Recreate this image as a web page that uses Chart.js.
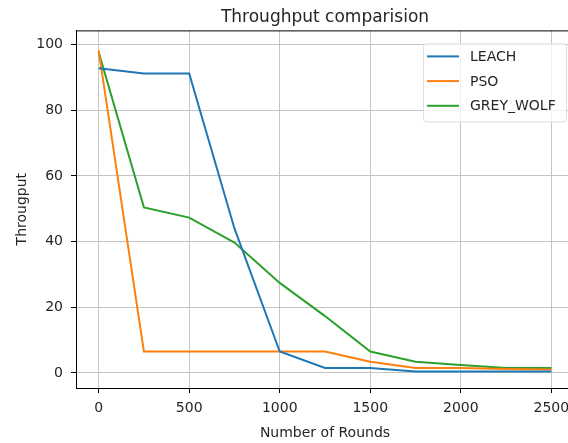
<!DOCTYPE html>
<html>
<head>
<meta charset="utf-8">
<script src="https://cdn.jsdelivr.net/npm/chart.js@4"></script>
<style>
  html, body { margin: 0; padding: 0; background: #fff; overflow: hidden; }
  canvas { display: block; }
</style>
</head>
<body>
<canvas id="lineChart" width="650" height="443"></canvas>
<script>
var rounds = [0, 250, 500, 750, 1000, 1250, 1500, 1750, 2000, 2250, 2500];
var leach = [92.8, 91.2, 91.2, 44, 6.5, 1.5, 1.5, 0.4, 0.4, 0.4, 0.4];
var pso = [98.2, 6.5, 6.5, 6.5, 6.5, 6.5, 3.4, 1.5, 1.5, 1.2, 1.0];
var greyWolf = [97.7, 50.4, 47.3, 39.7, 27.4, 17.3, 6.5, 3.4, 2.4, 1.5, 1.5];
var xTicks = [0, 500, 1000, 1500, 2000, 2500];
var yTicks = [0, 20, 40, 60, 80, 100];

var fontFamily = "'DejaVu Sans', sans-serif";
var textColor = "#262626";

function points(values) {
    return rounds.map(function(r, i) { return { x: r, y: values[i] }; });
}

function series(label, values, color) {
    return {
        label: label,
        data: points(values),
        borderColor: color,
        backgroundColor: color,
        borderWidth: 2,
        pointRadius: 0,
        tension: 0,
        fill: false
    };
}

// matplotlib style legend drawn inside the axes, upper right
var boxLegend = {
    id: "boxLegend",
    afterDatasetsDraw: function(chart) {
        var ctx = chart.ctx;
        var area = chart.chartArea;
        var right = area.right - 8;
        var left = right - 143;
        var top = area.top + 13;
        var bottom = top + 78;
        ctx.save();
        ctx.beginPath();
        ctx.roundRect(left + 0.5, top + 0.5, right - left, bottom - top, 3);
        ctx.fillStyle = "rgba(255,255,255,0.8)";
        ctx.fill();
        ctx.strokeStyle = "#dedede";
        ctx.lineWidth = 1;
        ctx.stroke();
        ctx.font = "14px " + fontFamily;
        ctx.textBaseline = "middle";
        ctx.fillStyle = textColor;
        chart.data.datasets.forEach(function(ds, i) {
            var y = top + 13 + i * 24.7;
            ctx.beginPath();
            ctx.moveTo(left + 4, y);
            ctx.lineTo(left + 36, y);
            ctx.strokeStyle = ds.borderColor;
            ctx.lineWidth = 2;
            ctx.stroke();
            ctx.fillText(ds.label, left + 47, y + 1);
        });
        ctx.restore();
    }
};

// top spine of the axes box
var topSpine = {
    id: "topSpine",
    afterDraw: function(chart) {
        var ctx = chart.ctx;
        var area = chart.chartArea;
        ctx.save();
        ctx.strokeStyle = "#000";
        ctx.lineWidth = 1;
        ctx.beginPath();
        ctx.moveTo(area.left, area.top + 0.5);
        ctx.lineTo(area.right, area.top + 0.5);
        ctx.stroke();
        ctx.restore();
    }
};

function plainLabel(value) { return String(value); }

var ctx = document.getElementById("lineChart").getContext("2d");
var lineChart = new Chart(ctx, {
    type: "line",
    data: {
        datasets: [
            series("LEACH", leach, "#1f77b4"),
            series("PSO", pso, "#ff7f0e"),
            series("GREY_WOLF", greyWolf, "#2ca02c")
        ]
    },
    options: {
        responsive: false,
        animation: false,
        devicePixelRatio: 1,
        layout: { padding: 0 },
        plugins: {
            legend: { display: false },
            tooltip: { enabled: false },
            title: {
                display: true,
                text: "Throughput comparision",
                color: textColor,
                font: { family: fontFamily, size: 17, weight: "normal" },
                padding: { top: 7, bottom: 3 }
            }
        },
        scales: {
            x: {
                type: "linear",
                min: -125,
                max: 2625,
                afterBuildTicks: function(scale) {
                    scale.ticks = xTicks.map(function(v) { return { value: v }; });
                },
                afterFit: function(scale) { scale.height = 55; },
                grid: { color: "#c4c4c4", lineWidth: 1, tickLength: 5, tickColor: "#000", drawTicks: true },
                border: { display: true, color: "#000", width: 1 },
                ticks: {
                    color: textColor,
                    padding: 7,
                    maxRotation: 0,
                    font: { family: fontFamily, size: 14 },
                    callback: plainLabel
                },
                title: {
                    display: true,
                    text: "Number of Rounds",
                    color: textColor,
                    font: { family: fontFamily, size: 14 },
                    padding: { top: 0, bottom: 1 }
                }
            },
            y: {
                type: "linear",
                position: "left",
                min: -4.6,
                max: 104.3,
                afterBuildTicks: function(scale) {
                    scale.ticks = yTicks.map(function(v) { return { value: v }; });
                },
                afterFit: function(scale) { scale.width = 76; },
                grid: { color: "#c4c4c4", lineWidth: 1, tickLength: 5, tickColor: "#000", drawTicks: true },
                border: { display: true, color: "#000", width: 1 },
                ticks: {
                    color: textColor,
                    padding: 8,
                    font: { family: fontFamily, size: 14 },
                    callback: plainLabel
                },
                title: {
                    display: true,
                    text: "Througput",
                    color: textColor,
                    font: { family: fontFamily, size: 14 },
                    padding: { top: 14, bottom: 0 }
                }
            },
            yRight: {
                type: "linear",
                position: "right",
                display: true,
                afterFit: function(scale) { scale.width = 76; },
                grid: { display: false },
                border: { display: false },
                ticks: { display: false },
                title: { display: false }
            }
        }
    },
    plugins: [boxLegend, topSpine]
});
</script>
</body>
</html>
